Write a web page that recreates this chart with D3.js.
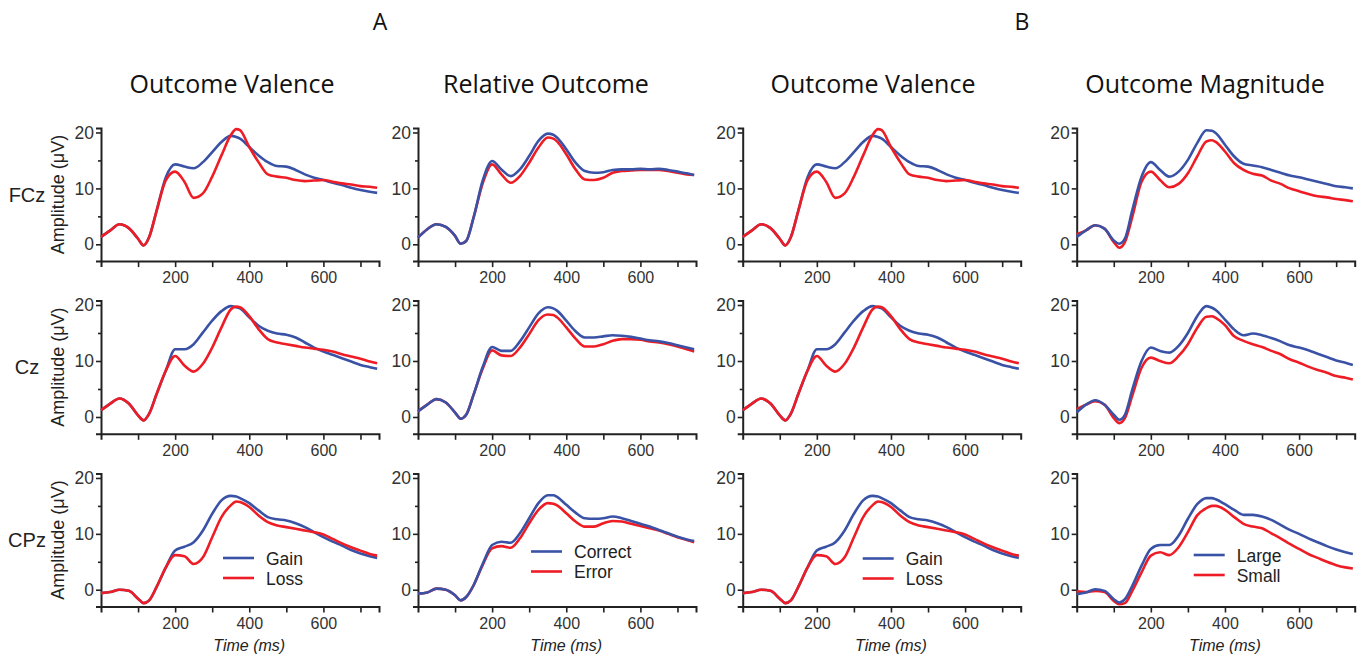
<!DOCTYPE html>
<html><head><meta charset="utf-8">
<script src="https://cdn.jsdelivr.net/npm/d3@7"></script>
<style>body{margin:0;background:#fff} svg{display:block}</style>
</head><body><svg id="c" width="1363" height="658"></svg>
<script>
// ---------------- DATA ----------------
const TIMES = [0,25,50,75,100,115,130,150,175,200,225,250,275,300,325,350,365,375,400,425,450,475,500,525,550,575,600,625,650,675,700,725,745];
const X_TICKS = [100,200,300,400,500,600,700];
const X_LABELS = [200,400,600];
const Y_TICKS = [0,5,10,15,20];
const Y_LABELS = [0,10,20];
const CHANNELS = ["FCz","Cz","CPz"];
const GROUP_LABELS = ["A","B"];
const TITLES = ["Outcome Valence","Relative Outcome","Outcome Valence","Outcome Magnitude"];
const LEGENDS = [["Gain","Loss"],["Correct","Error"],["Gain","Loss"],["Large","Small"]];

// Outcome valence (Gain / Loss)
const valFczGain = [1.3,2.5,3.6,2.9,1.0,-0.2,1.3,6.0,12.0,14.3,13.9,13.6,14.7,16.5,18.3,19.4,19.2,18.9,17.4,15.9,14.7,14.0,13.9,13.3,12.5,11.9,11.5,11.0,10.6,10.1,9.7,9.4,9.2];
const valFczLoss = [1.3,2.5,3.6,2.9,1.0,-0.2,1.3,6.0,11.5,13.0,11.2,8.3,9.1,12.1,15.9,19.5,20.6,20.4,17.4,14.7,12.5,12.1,11.9,11.5,11.3,11.4,11.5,11.2,10.9,10.7,10.4,10.3,10.1];
const valCzGain  = [1.2,2.4,3.3,2.4,0.3,-0.6,0.6,4.1,8.3,12.1,12.1,13.0,15.1,17.2,18.9,19.8,19.6,19.4,17.8,16.3,15.4,14.9,14.7,14.2,13.3,12.4,11.7,11.1,10.5,9.9,9.3,8.9,8.6];
const valCzLoss  = [1.2,2.4,3.3,2.4,0.3,-0.6,0.6,4.1,8.3,10.9,9.2,8.1,9.5,12.4,16.0,19.2,19.7,19.6,18.0,15.7,13.9,13.3,13.0,12.7,12.4,12.2,12.0,11.7,11.2,10.8,10.4,9.9,9.6];
const valCpzGain = [-0.6,-0.4,0.0,-0.2,-1.6,-2.4,-1.9,0.5,4.0,7.0,7.7,8.5,10.6,13.6,16.0,16.8,16.7,16.4,15.5,14.2,13.0,12.6,12.4,11.9,11.2,10.3,9.4,8.6,7.9,7.1,6.5,6.0,5.7];
const valCpzLoss = [-0.6,-0.4,0.0,-0.2,-1.6,-2.4,-1.9,0.5,4.0,6.2,6.0,4.6,5.8,9.4,13.0,15.1,15.8,15.7,14.8,13.3,12.1,11.5,11.2,10.9,10.6,10.3,9.9,9.1,8.3,7.6,7.0,6.4,6.1];

// Relative outcome (Correct / Error)
const relFczCorrect = [1.2,2.7,3.6,3.1,1.5,0.1,0.6,4.8,11.5,14.9,13.4,12.2,13.4,15.8,18.5,19.8,19.6,19.1,17.0,14.6,13.1,12.8,12.9,13.3,13.4,13.4,13.5,13.4,13.5,13.3,13.0,12.7,12.4];
const relFczError   = [1.2,2.7,3.6,3.1,1.5,0.1,0.6,4.8,11.0,14.3,12.5,11.0,12.2,14.6,17.3,19.1,18.9,18.4,16.1,13.4,11.6,11.5,11.9,12.8,13.1,13.2,13.3,13.3,13.3,13.1,12.8,12.5,12.4];
const relCzCorrect  = [1.0,2.2,3.2,2.6,0.8,-0.3,0.4,4.0,9.0,12.5,11.8,11.8,13.5,16.0,18.5,19.6,19.4,19.0,17.2,15.3,14.2,14.2,14.4,14.6,14.5,14.3,14.0,13.7,13.5,13.2,12.8,12.4,12.1];
const relCzError    = [1.0,2.2,3.2,2.6,0.8,-0.3,0.4,4.0,8.7,11.9,11.0,10.9,12.4,14.8,17.3,18.3,18.2,17.8,16.0,14.0,12.6,12.6,13.0,13.6,13.9,13.9,13.8,13.5,13.3,13.0,12.6,12.1,11.7];
const relCpzCorrect = [-0.7,-0.5,0.2,0.0,-1.0,-1.9,-1.3,0.8,4.7,8.0,8.6,8.4,10.1,12.8,15.5,16.9,16.9,16.6,15.2,13.8,12.8,12.7,12.8,13.1,12.8,12.3,11.8,11.3,10.7,10.1,9.5,9.0,8.7];
const relCpzError   = [-0.7,-0.5,0.2,0.0,-1.0,-1.9,-1.3,0.8,4.5,7.4,7.8,7.5,9.2,11.9,14.3,15.5,15.4,15.1,13.7,12.2,11.3,11.3,11.9,12.3,12.2,11.8,11.4,11.0,10.6,10.0,9.4,8.9,8.5];

// Outcome magnitude (Large / Small)
const magFczLarge = [1.3,2.5,3.4,2.8,0.7,0.1,1.0,6.1,12.1,14.7,13.3,12.1,13.0,15.1,18.1,20.4,20.3,19.9,17.8,15.7,14.4,14.1,13.8,13.3,12.8,12.3,12.0,11.6,11.2,10.8,10.4,10.2,10.0];
const magFczSmall = [1.8,2.5,3.4,2.8,0.4,-0.6,0.4,4.9,11.2,13.0,11.5,10.2,10.8,12.7,15.7,18.4,18.6,18.3,16.6,14.5,13.3,12.6,12.3,11.4,10.8,10.0,9.5,9.0,8.6,8.4,8.1,7.9,7.7];
const magCzLarge  = [0.8,2.2,3.0,2.2,0.4,-0.5,0.4,4.9,10.0,12.4,11.8,11.5,12.7,15.0,18.0,19.8,19.5,19.1,17.4,15.6,14.6,14.9,14.6,14.1,13.5,12.8,12.4,11.9,11.3,10.7,10.1,9.7,9.3];
const magCzSmall  = [1.4,2.2,2.8,2.2,-0.2,-1.1,-0.2,3.8,8.8,10.6,10.0,9.6,10.9,13.0,15.9,17.9,18.0,17.7,16.4,14.4,13.6,13.0,12.5,11.8,11.2,10.3,9.7,9.0,8.4,7.9,7.3,7.0,6.7];
const magCpzLarge = [-0.8,-0.5,0.1,-0.2,-1.7,-2.3,-1.7,0.7,4.3,7.3,8.0,8.0,9.7,12.7,15.3,16.4,16.4,16.2,15.3,14.3,13.4,13.4,13.1,12.5,11.6,10.7,10.0,9.2,8.5,7.8,7.2,6.7,6.4];
const magCpzSmall = [-0.3,-0.4,-0.2,-0.4,-2.0,-2.6,-2.4,-0.2,3.1,6.1,6.7,6.2,7.6,10.3,13.3,14.6,15.0,15.0,14.3,13.0,11.8,11.3,11.0,10.1,9.2,8.2,7.3,6.4,5.7,5.0,4.4,4.0,3.8];

const SERIES = [
  [[valFczGain,valFczLoss],[valCzGain,valCzLoss],[valCpzGain,valCpzLoss]],
  [[relFczCorrect,relFczError],[relCzCorrect,relCzError],[relCpzCorrect,relCpzError]],
  [[valFczGain,valFczLoss],[valCzGain,valCzLoss],[valCpzGain,valCpzLoss]],
  [[magFczLarge,magFczSmall],[magCzLarge,magCzSmall],[magCpzLarge,magCpzSmall]]
];

// ---------------- LAYOUT ----------------
const COLORS = ["#3a52a6", "#ee1d25"];
const colX = [101, 418, 742.7, 1076.7];
const plotW = 278;
const rowTop = [128, 300.5, 473.5];
const rowBot = [261.1, 433.8, 606.5];
const redOnTop = [true, false, true, false];
const titleX = [232, 546, 873, 1205];
const groupX = [380, 1022];
const legendPos = [[122, 558], [113, 551.5], [120, 558.5], [117, 555]]; // x offset from axis, y of first entry
const legendGap = 20;

const svg = d3.select("#c");
const tickFont = "'Liberation Sans', Arial, sans-serif";
const titleFont = "'Open Sans', sans-serif";

GROUP_LABELS.forEach((g, i) => {
  svg.append("text").attr("x", groupX[i]).attr("y", 30).attr("text-anchor", "middle")
    .attr("font-family", titleFont).attr("font-size", 23).attr("fill", "#111").text(g);
});
TITLES.forEach((t, i) => {
  svg.append("text").attr("x", titleX[i]).attr("y", 93).attr("text-anchor", "middle")
    .attr("font-family", titleFont).attr("font-size", 25).attr("fill", "#111").text(t);
});

SERIES.forEach((col, ci) => {
  const x = d3.scaleLinear().domain([0, 750]).range([colX[ci], colX[ci] + plotW]);
  col.forEach((pair, ri) => {
    const y = d3.scaleLinear().domain([-3, 20.8]).range([rowBot[ri], rowTop[ri]]);
    const g = svg.append("g");

    // y axis
    const ya = g.append("g").attr("transform", `translate(${colX[ci]},0)`)
      .call(d3.axisLeft(y).tickValues(Y_TICKS).tickSizeOuter(0).tickSize(5).tickPadding(2)
        .tickFormat(d => Y_LABELS.includes(d) ? d : ""));
    ya.selectAll("text").attr("font-family", tickFont).attr("font-size", 17.5).attr("fill", "#333");
    ya.selectAll(".tick").filter(d => !Y_LABELS.includes(d)).select("line").attr("x2", -3);
    ya.selectAll("line").attr("stroke", "#222").attr("stroke-width", 1.6);
    ya.select(".domain").attr("stroke", "#222").attr("stroke-width", 2);

    // x axis
    const xa = g.append("g").attr("transform", `translate(0,${rowBot[ri]})`)
      .call(d3.axisBottom(x).tickValues(X_TICKS).tickSizeOuter(0).tickSize(6).tickPadding(5)
        .tickFormat(d => X_LABELS.includes(d) ? d : ""));
    xa.selectAll("text").attr("font-family", tickFont).attr("font-size", 16).attr("fill", "#333");
    xa.selectAll("line").attr("stroke", "#222").attr("stroke-width", 1.6);
    xa.select(".domain").attr("stroke", "#222").attr("stroke-width", 2);

    const line = d3.line().x((d, i) => x(TIMES[i])).y(d => y(d)).curve(d3.curveMonotoneX);
    const order = redOnTop[ci] ? [0, 1] : [1, 0];
    order.forEach(si => {
      g.append("path").datum(pair[si]).attr("d", line).attr("fill", "none")
        .attr("stroke", COLORS[si]).attr("stroke-width", 2.6).attr("stroke-linejoin", "round");
    });

    if (ci === 0) {
      svg.append("text").attr("x", 27).attr("y", (rowTop[ri] + rowBot[ri]) / 2 + 7)
        .attr("text-anchor", "middle").attr("font-family", tickFont).attr("font-size", 20)
        .attr("fill", "#222").text(CHANNELS[ri]);
      svg.append("text")
        .attr("transform", `translate(64,${(rowTop[ri] + rowBot[ri]) / 2}) rotate(-90)`)
        .attr("text-anchor", "middle").attr("font-family", tickFont).attr("font-size", 18)
        .attr("fill", "#222").text("Amplitude (μV)");
    }

    if (ri === 2) {
      svg.append("text").attr("x", x(400)).attr("y", 651).attr("text-anchor", "middle")
        .attr("font-family", tickFont).attr("font-style", "italic").attr("font-size", 16)
        .attr("fill", "#222").text("Time (ms)");
      const lx = colX[ci] + legendPos[ci][0];
      const ly = legendPos[ci][1];
      LEGENDS[ci].forEach((lab, k) => {
        const yy = ly + k * legendGap;
        svg.append("line").attr("x1", lx).attr("x2", lx + 31).attr("y1", yy).attr("y2", yy)
          .attr("stroke", COLORS[k]).attr("stroke-width", 2.6);
        svg.append("text").attr("x", lx + 43).attr("y", yy + 6.5)
          .attr("font-family", tickFont).attr("font-size", 17.5).attr("fill", "#222").text(lab);
      });
    }
  });
});
</script>
</body></html>
